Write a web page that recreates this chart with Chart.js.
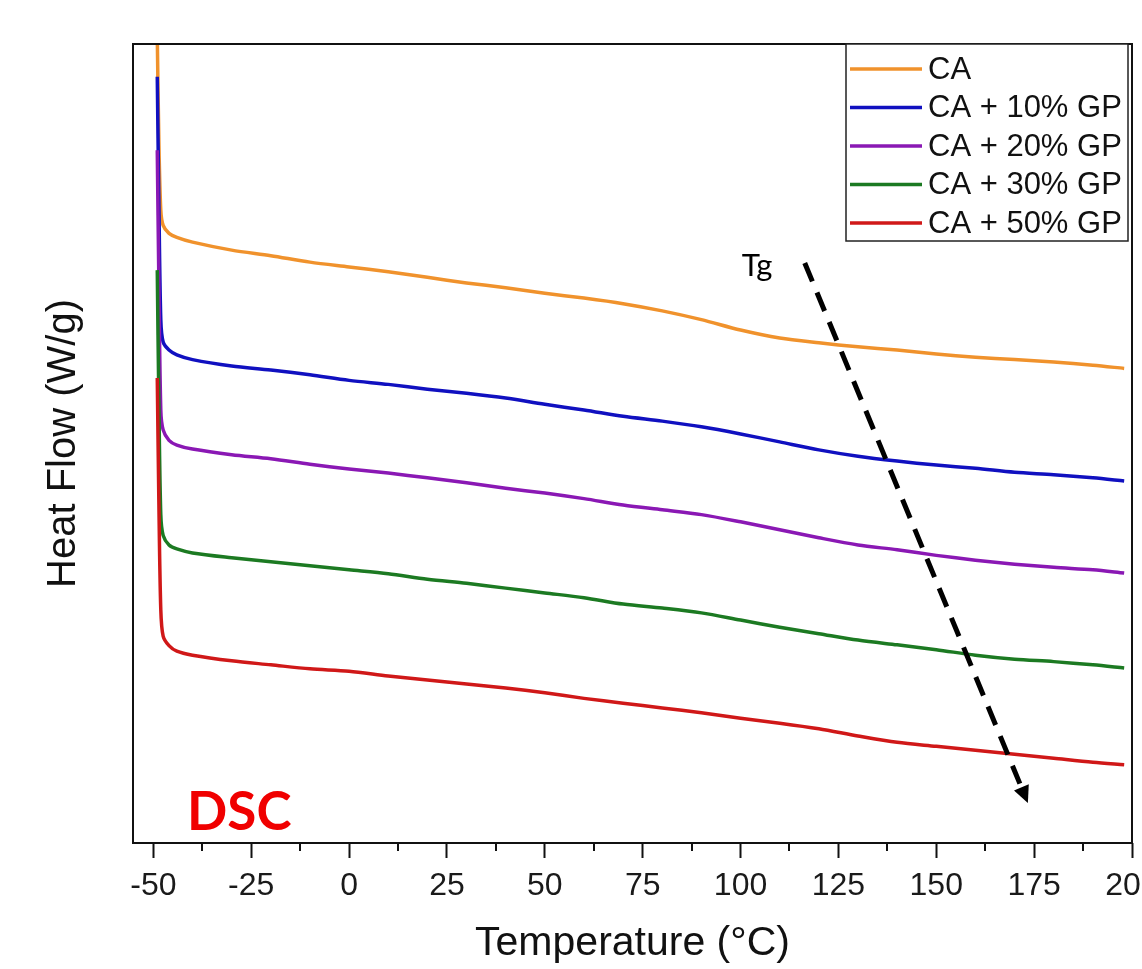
<!DOCTYPE html>
<html>
<head>
<meta charset="utf-8">
<title>DSC</title>
<script src="https://cdn.jsdelivr.net/npm/chart.js@4"></script>
<style>
  html, body { margin: 0; padding: 0; background: #fff; overflow: hidden; }
  canvas { display: block; }
</style>
</head>
<body>
<canvas id="dscChart" width="1170" height="969"></canvas>
<script>
// Temperature points (°C) shared by all curves
var temps = [-49.0, -48.6, -48.1, -47.5, -46, -44, -40, -30, -20, -10, 0, 10, 20, 30, 40, 50,
             60, 70, 80, 90, 100, 110, 120, 130, 140, 150, 160, 170, 180, 190, 198];

// Heat flow (arbitrary units)
var caFlow = [101, 88, 79.2, 77.3, 76.3, 75.8, 75.2, 74.2, 73.5, 72.7, 72.1, 71.5, 70.8, 70.1, 69.5, 68.8,
              68.2, 67.5, 66.6, 65.5, 64.2, 63.2, 62.6, 62.1, 61.7, 61.2, 60.8, 60.5, 60.2, 59.8, 59.4];
var gp10Flow = [95.9, 80.5, 65.5, 62.7, 61.7, 61.1, 60.5, 59.7, 59.2, 58.6, 57.9, 57.4, 56.8, 56.3, 55.7, 54.9,
                54.2, 53.4, 52.8, 52.1, 51.2, 50.2, 49.2, 48.4, 47.8, 47.3, 46.9, 46.4, 46.1, 45.7, 45.3];
var gp20Flow = [86.7, 70.5, 54.2, 51.7, 50.4, 49.8, 49.3, 48.6, 48.1, 47.4, 46.8, 46.3, 45.7, 45.1, 44.4, 43.8,
                43.1, 42.3, 41.7, 41.1, 40.2, 39.2, 38.2, 37.3, 36.7, 36.0, 35.4, 34.9, 34.5, 34.2, 33.8];
var gp30Flow = [71.7, 55.4, 41.1, 38.5, 37.3, 36.8, 36.3, 35.7, 35.2, 34.7, 34.2, 33.7, 33.0, 32.5, 31.9, 31.3,
                30.7, 29.9, 29.4, 28.8, 27.9, 27.0, 26.2, 25.4, 24.8, 24.2, 23.5, 23.0, 22.7, 22.3, 21.9];
var gp50Flow = [58.2, 42.9, 29.2, 25.9, 24.7, 24.0, 23.5, 22.8, 22.3, 21.8, 21.5, 20.9, 20.4, 19.9, 19.4, 18.8,
                18.1, 17.5, 16.9, 16.3, 15.6, 15.0, 14.3, 13.4, 12.6, 12.1, 11.6, 11.1, 10.6, 10.1, 9.8];

var seriesNames = ['CA', 'CA + 10% GP', 'CA + 20% GP', 'CA + 30% GP', 'CA + 50% GP'];
var majorTicks = [-50, -25, 0, 25, 50, 75, 100, 125, 150, 175, 200];
var minorTicks = [-37.5, -12.5, 12.5, 37.5, 62.5, 87.5, 112.5, 137.5, 162.5, 187.5];

var colors = ['#f0922c', '#1010c0', '#8a18b4', '#1c7a22', '#d01818'];

function toPoints(ys) {
    return temps.map(function(t, i) { return { x: t, y: ys[i] }; });
}

var allFlows = [caFlow, gp10Flow, gp20Flow, gp30Flow, gp50Flow];
var datasets = allFlows.map(function(ys, i) {
    return {
        label: seriesNames[i],
        data: toPoints(ys),
        borderColor: colors[i],
        borderWidth: 3.5,
        pointRadius: 0,
        tension: 0.3,
        fill: false
    };
});

// frame, minor ticks, legend box, Tg arrow and DSC label
var decorPlugin = {
    id: 'decor',
    afterDraw: function(chart) {
        var ctx = chart.ctx;
        var area = chart.chartArea;
        var xs = chart.scales.x;
        var ys = chart.scales.y;
        ctx.save();

        // frame
        ctx.strokeStyle = '#111';
        ctx.lineWidth = 2;
        ctx.strokeRect(area.left, area.top, area.right - area.left, area.bottom - area.top);

        // minor ticks
        ctx.lineWidth = 2;
        minorTicks.forEach(function(v) {
            var px = Math.round(xs.getPixelForValue(v));
            ctx.beginPath();
            ctx.moveTo(px, area.bottom);
            ctx.lineTo(px, area.bottom + 8);
            ctx.stroke();
        });

        // legend
        var lx = 846, ly = area.top, lw = 282, lh = 197;
        ctx.lineWidth = 1.5;
        ctx.strokeStyle = '#222';
        ctx.fillStyle = '#fff';
        ctx.fillRect(lx, ly, lw, lh);
        ctx.strokeRect(lx, ly, lw, lh);
        ctx.font = '31px "Liberation Sans", Arial, sans-serif';
        ctx.textBaseline = 'middle';
        ctx.textAlign = 'left';
        seriesNames.forEach(function(name, i) {
            var ry = ly + 25 + i * 38.5;
            ctx.strokeStyle = colors[i];
            ctx.lineWidth = 3.5;
            ctx.beginPath();
            ctx.moveTo(lx + 4, ry);
            ctx.lineTo(lx + 76, ry);
            ctx.stroke();
            ctx.fillStyle = '#111';
            ctx.fillText(name, lx + 82, ry + 1);
        });

        // Tg label
        ctx.fillStyle = '#000';
        ctx.font = '31px Lato, "Open Sans", sans-serif';
        ctx.textAlign = 'center';
        ctx.fillText('Tg', xs.getPixelForValue(104.2), ys.getPixelForValue(72.2));

        // dashed arrow
        var x0 = xs.getPixelForValue(116.4), y0 = ys.getPixelForValue(72.6);
        var x1 = xs.getPixelForValue(173.4), y1 = ys.getPixelForValue(5.0);
        var ang = Math.atan2(y1 - y0, x1 - x0);
        var headLen = 17;
        var bx = x1 - Math.cos(ang) * headLen, by = y1 - Math.sin(ang) * headLen;
        ctx.strokeStyle = '#000';
        ctx.lineWidth = 5;
        ctx.setLineDash([20, 12]);
        ctx.beginPath();
        ctx.moveTo(x0, y0);
        ctx.lineTo(bx - Math.cos(ang) * 4, by - Math.sin(ang) * 4);
        ctx.stroke();
        ctx.setLineDash([]);
        ctx.fillStyle = '#000';
        ctx.beginPath();
        ctx.moveTo(x1, y1);
        ctx.lineTo(bx + Math.cos(ang + Math.PI / 2) * 8, by + Math.sin(ang + Math.PI / 2) * 8);
        ctx.lineTo(bx - Math.cos(ang + Math.PI / 2) * 8, by - Math.sin(ang + Math.PI / 2) * 8);
        ctx.closePath();
        ctx.fill();

        // DSC label
        ctx.fillStyle = '#f00000';
        ctx.font = 'bold 53px Lato, "Open Sans", sans-serif';
        ctx.textAlign = 'left';
        ctx.textBaseline = 'alphabetic';
        ctx.fillText('DSC', 187, area.bottom - 13);

        ctx.restore();
    }
};

document.addEventListener('DOMContentLoaded', function() {
    var ctx = document.getElementById('dscChart').getContext('2d');
    var dscChart = new Chart(ctx, {
        type: 'line',
        data: { datasets: datasets.slice().reverse() },
        options: {
            responsive: false,
            animation: false,
            layout: { padding: { top: 44, right: 38, left: 0, bottom: 0 } },
            plugins: {
                legend: { display: false },
                tooltip: { enabled: false }
            },
            scales: {
                x: {
                    type: 'linear',
                    min: -55.2,
                    max: 200,
                    afterBuildTicks: function(scale) {
                        scale.ticks = majorTicks.map(function(v) { return { value: v }; });
                    },
                    afterFit: function(scale) { scale.height = 126; },
                    grid: {
                        display: true,
                        drawOnChartArea: false,
                        drawTicks: true,
                        tickLength: 15,
                        tickColor: '#111',
                        tickWidth: 2
                    },
                    border: { display: false },
                    ticks: {
                        autoSkip: false,
                        maxRotation: 0,
                        padding: 9,
                        color: '#1a1a1a',
                        font: { family: '"Liberation Sans", Arial, sans-serif', size: 32 },
                        callback: function(v) { return String(v); }
                    },
                    title: {
                        display: true,
                        text: 'Temperature (°C)',
                        color: '#111',
                        font: { family: '"Liberation Sans", Arial, sans-serif', size: 41 },
                        padding: { top: 0, bottom: 1 }
                    }
                },
                y: {
                    min: 0,
                    max: 100,
                    afterFit: function(scale) { scale.width = 133; },
                    grid: { display: false },
                    border: { display: false },
                    ticks: { display: false },
                    title: {
                        display: true,
                        text: 'Heat Flow (W/g)',
                        color: '#111',
                        font: { family: '"Liberation Sans", Arial, sans-serif', size: 40 },
                        padding: { top: 40, bottom: 0 }
                    }
                }
            }
        },
        plugins: [decorPlugin]
    });
});
</script>
</body>
</html>
